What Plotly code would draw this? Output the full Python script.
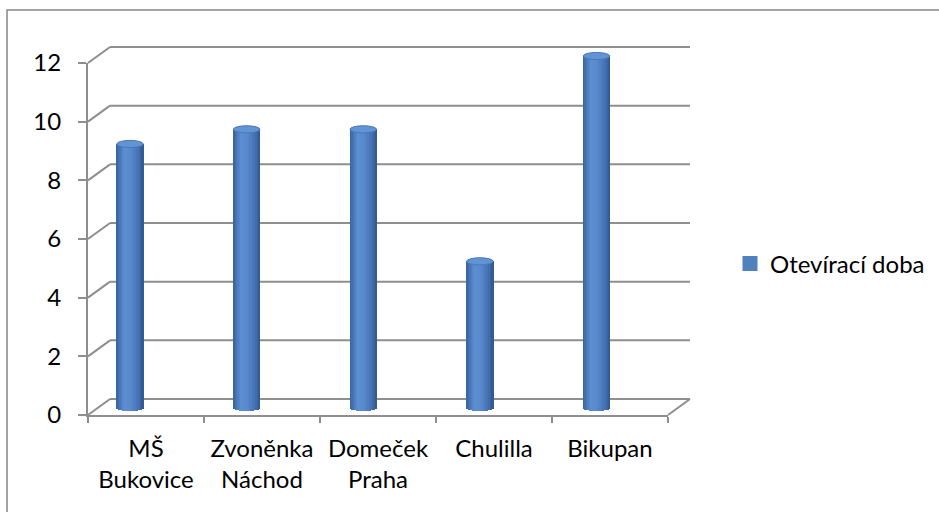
import math
import plotly.graph_objects as go

# ---- data ----
categories = ["MŠ<br>Bukovice", "Zvoněnka<br>Náchod", "Domeček<br>Praha", "Chulilla", "Bikupan"]
hours = [9, 9.5, 9.5, 5, 12]
series_name = "Otevírací doba"
y_ticks = [0, 2, 4, 6, 8, 10, 12]

# ---- canvas geometry (pixels) ----
W, H = 939, 512
FONT = "Lato"
GRID = "#8e8e8e"

def px(x):
    return x / W

def py(y):
    return 1 - y / H

# front plane of the 3-D box
FX0, FX1 = 88, 668          # floor front edge
FY0, FY1 = 415, 63          # value 0 and value 12 on the front axis
Y_MAX = 12
UNIT = (FY0 - FY1) / Y_MAX  # pixels per hour
DX, DY = 22, 16             # depth shift of the back wall

def yf(v):
    return FY0 - v * UNIT

def yb(v):
    return yf(v) - DY

# cylinders sit half way into the box
CYL_C0, CYL_C1 = 130, 596.5
BAND = (CYL_C1 - CYL_C0) / (len(categories) - 1)
CYL_Y0 = 408
CYL_PAD = 0.6
cyl_dom_x = [px(CYL_C0 - BAND / 2), px(CYL_C1 + BAND / 2)]
cyl_dom_y = [py(CYL_Y0 + CYL_PAD * UNIT), py(CYL_Y0 - (Y_MAX + CYL_PAD) * UNIT)]
CYL_W = 26.5 / BAND         # cylinder width in category units
RY = 3.6 / UNIT             # half height of the end ellipses in hours

# horizontal shading across a cylinder
stops = [(0.0, (56, 98, 156)), (0.3, (92, 142, 210)), (0.55, (88, 137, 204)),
         (0.85, (66, 111, 176)), (1.0, (48, 88, 142))]

def shade(t):
    for (t0, c0), (t1, c1) in zip(stops, stops[1:]):
        if t0 <= t <= t1:
            f = (t - t0) / (t1 - t0)
            return "rgb(%d,%d,%d)" % tuple(round(a + (b - a) * f) for a, b in zip(c0, c1))
    return "rgb(%d,%d,%d)" % stops[-1][1]

fig = go.Figure()

N = 18
for k in range(N):
    t = (k + 0.5) / N
    off = -CYL_W / 2 + k * CYL_W / N
    drop = RY * math.sqrt(max(0.0, 1 - (2 * t - 1) ** 2))
    fig.add_trace(go.Bar(
        x=categories, y=[v + drop for v in hours], base=[-drop] * len(hours),
        offset=off - 0.001, width=CYL_W / N + 0.002,
        marker=dict(color=shade(t), line=dict(width=0)),
        xaxis="x3", yaxis="y3", showlegend=False, hoverinfo="skip",
    ))

# legend entry
fig.add_trace(go.Scatter(
    x=[None], y=[None], mode="markers", name=series_name,
    marker=dict(symbol="square", size=15, color="#4F81BD"),
    showlegend=True,
))

shapes = []
# back wall gridlines with their diagonal links to the front axis
for v in y_ticks:
    shapes.append(dict(type="line", xref="paper", yref="paper",
                       x0=px(FX0 + DX), x1=px(FX1 + DX), y0=py(yb(v)), y1=py(yb(v)),
                       line=dict(color=GRID, width=2), layer="below"))
    shapes.append(dict(type="line", xref="paper", yref="paper",
                       x0=px(FX0), x1=px(FX0 + DX), y0=py(yf(v)), y1=py(yb(v)),
                       line=dict(color=GRID, width=2), layer="below"))
# right edge of the floor
shapes.append(dict(type="line", xref="paper", yref="paper",
                   x0=px(FX1), x1=px(FX1 + DX), y0=py(yf(0)), y1=py(yb(0)),
                   line=dict(color=GRID, width=2), layer="below"))
# cylinder tops
for i, v in enumerate(hours):
    shapes.append(dict(type="circle", xref="x3", yref="y3",
                       x0=i - CYL_W / 2, x1=i + CYL_W / 2, y0=v - RY, y1=v + RY,
                       fillcolor="#6193d5", line=dict(color="#4878b8", width=1),
                       layer="above"))
# chart area border
shapes.append(dict(type="rect", xref="paper", yref="paper",
                   x0=px(7), x1=px(W + 20), y0=py(10), y1=py(H + 20),
                   line=dict(color="#878787", width=1.5), layer="below"))

fig.update_layout(
    template="none",
    width=W, height=H, autosize=False,
    margin=dict(l=0, r=0, t=0, b=0, autoexpand=False),
    paper_bgcolor="white", plot_bgcolor="rgba(0,0,0,0)",
    font=dict(family=FONT, size=24, color="black"),
    barmode="overlay", bargap=0,
    shapes=shapes,
    xaxis=dict(domain=[px(FX0), px(FX1)], type="category",
               categoryorder="array", categoryarray=categories,
               range=[-0.5, len(categories) - 0.5], automargin=False,
               showline=True, linecolor=GRID, linewidth=2,
               ticks="outside", tickson="boundaries", ticklen=6,
               tickcolor=GRID, tickwidth=2, showgrid=False, zeroline=False,
               ticklabelstandoff=11,
               tickfont=dict(family=FONT, size=24, color="black"),
               anchor="y", fixedrange=True),
    yaxis=dict(domain=[py(FY0), py(FY1)], range=[0, Y_MAX], tickvals=y_ticks,
               showline=True, linecolor=GRID, linewidth=2, automargin=False,
               ticks="outside", ticklen=8, tickcolor=GRID, tickwidth=2,
               showgrid=False, zeroline=False, ticklabelstandoff=12,
               tickfont=dict(family=FONT, size=24, color="black"),
               anchor="x", fixedrange=True),
    xaxis3=dict(domain=cyl_dom_x, type="category",
                categoryorder="array", categoryarray=categories,
                range=[-0.5, len(categories) - 0.5], automargin=False,
                visible=False, anchor="y3", fixedrange=True),
    yaxis3=dict(domain=cyl_dom_y, range=[-CYL_PAD, Y_MAX + CYL_PAD], automargin=False,
                visible=False, anchor="x3", fixedrange=True),
    legend=dict(x=px(730), y=py(264), xanchor="left", yanchor="middle",
                bgcolor="rgba(0,0,0,0)", borderwidth=0,
                font=dict(family=FONT, size=24, color="black"),
                itemclick=False, itemdoubleclick=False),
)

fig.write_html("out.html")
